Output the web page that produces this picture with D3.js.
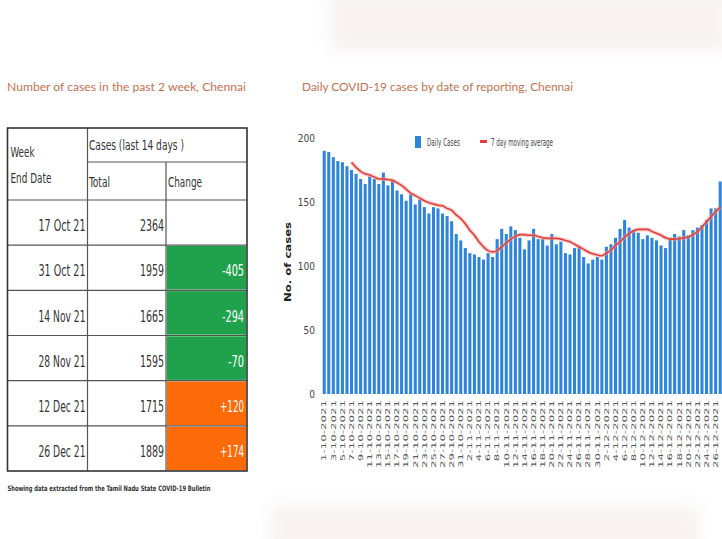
<!DOCTYPE html>
<html><head><meta charset="utf-8">
<script src="https://cdn.jsdelivr.net/npm/d3@7"></script>
<style>body{margin:0;background:#fff;} svg{display:block;}</style>
</head><body><div id="chart"></div>
<script>
// ---------- DATA ----------
const dates = [
"1-10-2021","2-10-2021","3-10-2021","4-10-2021","5-10-2021","6-10-2021","7-10-2021","8-10-2021","9-10-2021","10-10-2021",
"11-10-2021","12-10-2021","13-10-2021","14-10-2021","15-10-2021","16-10-2021","17-10-2021","18-10-2021","19-10-2021","20-10-2021",
"21-10-2021","22-10-2021","23-10-2021","24-10-2021","25-10-2021","26-10-2021","27-10-2021","28-10-2021","29-10-2021","30-10-2021",
"31-10-2021","1-11-2021","2-11-2021","3-11-2021","4-11-2021","5-11-2021","6-11-2021","7-11-2021","8-11-2021","9-11-2021",
"10-11-2021","11-11-2021","12-11-2021","13-11-2021","14-11-2021","15-11-2021","16-11-2021","17-11-2021","18-11-2021","19-11-2021",
"20-11-2021","21-11-2021","22-11-2021","23-11-2021","24-11-2021","25-11-2021","26-11-2021","27-11-2021","28-11-2021","29-11-2021",
"30-11-2021","1-12-2021","2-12-2021","3-12-2021","4-12-2021","5-12-2021","6-12-2021","7-12-2021","8-12-2021","9-12-2021",
"10-12-2021","11-12-2021","12-12-2021","13-12-2021","14-12-2021","15-12-2021","16-12-2021","17-12-2021","18-12-2021","19-12-2021",
"20-12-2021","21-12-2021","22-12-2021","23-12-2021","24-12-2021","25-12-2021","26-12-2021","27-12-2021"];

const dailyCases = [
190,189,185,182,181,178,175,172,168,164,
170,168,164,173,163,167,159,156,151,156,
148,152,146,141,146,145,141,139,135,125,
120,114,110,109,107,105,110,107,121,129,
125,131,128,122,113,120,129,121,121,116,
125,117,119,110,109,114,115,107,102,105,
107,105,115,117,122,129,136,130,128,126,
121,124,122,120,116,114,122,125,123,128,
124,128,130,132,136,145,145,166];

const movingAvg = [
null,null,null,null,null,null,181,177,174,172,
171,169.5,168,168,167.5,167,165,163,160,157,
155,153,151,149.5,148.5,147.5,147,145,143.5,140,
137,133,128,124,119,115,112,111,112,115,
118,121,123,124.5,124.5,124,124,123,122,121.6,
121.6,121.6,121,120,119,117,115,113,111,109.5,
108.6,108,110,112.5,116,119,122.5,125.5,127.5,128.6,
128.6,128.6,127,125.5,124,122,121,121,121.3,122,
122.6,124.5,126.8,130.5,134.6,138.5,142.4,146];

const yTicks = [0, 50, 100, 150, 200];
const seriesNames = ["Daily Cases", "7 day moving average"];

const weekEnd = ["17 Oct 21","31 Oct 21","14 Nov 21","28 Nov 21","12 Dec 21","26 Dec 21"];
const totals  = [2364, 1959, 1665, 1595, 1715, 1889];
const changes = [null, -405, -294, -70, 120, 174];

// ---------- SETUP ----------
const W = 722, H = 539;
const narrow = "'Liberation Sans Narrow','Arial Narrow','DejaVu Sans Condensed','Liberation Sans',sans-serif";
const titleFont = "Lato,'Open Sans',sans-serif";
const svg = d3.select("#chart").append("svg").attr("width", W).attr("height", H);
svg.append("rect").attr("width", W).attr("height", H).attr("fill", "#fff");

const defs = svg.append("defs");
defs.append("filter").attr("id", "blur").attr("x", "-20%").attr("y", "-50%").attr("width", "140%").attr("height", "200%")
  .append("feGaussianBlur").attr("stdDeviation", 8);
// faint background decoration
svg.append("rect").attr("x", 330).attr("y", -10).attr("width", 400).attr("height", 62)
  .attr("fill", "#f1e4e4").attr("opacity", 0.45).attr("filter", "url(#blur)");
svg.append("rect").attr("x", 270).attr("y", 505).attr("width", 430).attr("height", 50)
  .attr("fill", "#f1e4e4").attr("opacity", 0.45).attr("filter", "url(#blur)");

// ---------- TITLES ----------
const titleColor = "#c4714f";
svg.append("text").attr("x", 7).attr("y", 91).attr("font-family", titleFont).attr("font-size", 12)
  .attr("fill", titleColor).attr("textLength", 239).attr("lengthAdjust", "spacingAndGlyphs")
  .text("Number of cases in the past 2 week, Chennai");
svg.append("text").attr("x", 302).attr("y", 91).attr("font-family", titleFont).attr("font-size", 12)
  .attr("fill", titleColor).attr("textLength", 271).attr("lengthAdjust", "spacingAndGlyphs")
  .text("Daily COVID-19 cases by date of reporting, Chennai");

// ---------- TABLE ----------
const T = {left: 7.5, c1: 87.5, c2: 166, right: 247, top: 128, mid: 162, head: 200, bottom: 471};
const row = d3.scaleBand().domain(weekEnd).range([T.head, T.bottom]);
const bw = row.bandwidth();
const tbl = svg.append("g").attr("font-family", narrow).attr("fill", "#333");

const fillScale = v => v < 0 ? "#1fa24b" : "#fd6a08";
tbl.selectAll("rect.chg").data(weekEnd.filter((d, i) => changes[i] != null)).join("rect")
  .attr("x", T.c2 + 0.8).attr("width", T.right - T.c2 - 1.6)
  .attr("y", d => row(d) + 0.8).attr("height", bw - 1.6)
  .attr("fill", d => fillScale(changes[weekEnd.indexOf(d)]));

const lineC = "#555";
// grid lines
tbl.append("line").attr("x1", T.c1).attr("x2", T.right).attr("y1", T.mid).attr("y2", T.mid).attr("stroke", lineC).attr("stroke-width", 1.2);
tbl.append("line").attr("x1", T.left).attr("x2", T.right).attr("y1", T.head).attr("y2", T.head).attr("stroke", lineC).attr("stroke-width", 1.2);
tbl.selectAll("line.r").data(weekEnd.slice(1)).join("line")
  .attr("x1", T.left).attr("x2", T.right).attr("y1", d => row(d)).attr("y2", d => row(d))
  .attr("stroke", lineC).attr("stroke-width", 1.2);
tbl.append("line").attr("x1", T.c1).attr("x2", T.c1).attr("y1", T.top).attr("y2", T.bottom).attr("stroke", lineC).attr("stroke-width", 1.2);
tbl.append("line").attr("x1", T.c2).attr("x2", T.c2).attr("y1", T.mid).attr("y2", T.bottom).attr("stroke", lineC).attr("stroke-width", 1.2);
tbl.append("rect").attr("x", T.left).attr("y", T.top).attr("width", T.right - T.left).attr("height", T.bottom - T.top)
  .attr("fill", "none").attr("stroke", "#333").attr("stroke-width", 1.6);

function ht(x, y, s, len, size) {
  tbl.append("text").attr("x", x).attr("y", y).attr("font-size", size).attr("fill", "#333")
    .attr("textLength", len).attr("lengthAdjust", "spacingAndGlyphs").text(s);
}
ht(10.5, 157, "Week", 24, 14.5);
ht(10.5, 183, "End Date", 41, 14.5);
ht(89, 150, "Cases (last 14 days )", 95, 14.5);
ht(89, 187, "Total", 21, 14.5);
ht(168, 187, "Change", 34, 14.5);

const strW = s => [...s].reduce((a, c) => a + (c === "-" ? 4 : c === " " ? 3.5 : 6), 0);
const baseY = d => row(d) + bw / 2 + 8.6;
tbl.selectAll("text.date").data(weekEnd).join("text")
  .attr("x", T.c1 - 2).attr("y", baseY).attr("text-anchor", "end").attr("font-size", 16)
  .attr("textLength", 47).attr("lengthAdjust", "spacingAndGlyphs").text(d => d);
tbl.selectAll("text.tot").data(weekEnd).join("text")
  .attr("x", T.c2 - 2).attr("y", baseY).attr("text-anchor", "end").attr("font-size", 16)
  .attr("textLength", 24).attr("lengthAdjust", "spacingAndGlyphs").text((d, i) => totals[i]);
const fmtChg = v => v > 0 ? "+" + v : String(v);
tbl.selectAll("text.chgt").data(weekEnd.filter((d, i) => changes[i] != null)).join("text")
  .attr("x", T.right - 3).attr("y", baseY).attr("text-anchor", "end").attr("font-size", 16).attr("fill", "#fff")
  .attr("textLength", d => strW(fmtChg(changes[weekEnd.indexOf(d)])))
  .attr("lengthAdjust", "spacingAndGlyphs")
  .text(d => fmtChg(changes[weekEnd.indexOf(d)]));

svg.append("text").attr("x", 7.5).attr("y", 491).attr("font-family", narrow).attr("font-size", 7.5)
  .attr("font-weight", "bold").attr("fill", "#333").attr("textLength", 203).attr("lengthAdjust", "spacingAndGlyphs")
  .text("Showing data extracted from the Tamil Nadu State COVID-19 Bulletin");

// ---------- BAR CHART ----------
const x = d3.scaleBand().domain(dates).range([322, 322 + dates.length * 4.55]).paddingInner(0.33).paddingOuter(0.15);
const y = d3.scaleLinear().domain([0, 200]).range([394, 138]);
const barColor = "#2e84da";

const chart = svg.append("g");
chart.selectAll("rect.bar").data(dailyCases).join("rect")
  .attr("x", (d, i) => x(dates[i])).attr("width", x.bandwidth())
  .attr("y", d => y(d)).attr("height", d => y(0) - y(d)).attr("fill", barColor);

const line = d3.line().defined(d => d != null)
  .x((d, i) => x(dates[i]) + x.bandwidth() / 2).y(d => y(d)).curve(d3.curveMonotoneX);
chart.append("path").datum(movingAvg).attr("d", line).attr("fill", "none")
  .attr("stroke", "#f29a9a").attr("stroke-width", 4).attr("opacity", 0.5);
chart.append("path").datum(movingAvg).attr("d", line).attr("fill", "none")
  .attr("stroke", "#e2403c").attr("stroke-width", 1.6);

// axes
const xAxis = chart.append("g").attr("transform", "translate(0,394)")
  .call(d3.axisBottom(x).tickValues(dates.filter((d, i) => i % 2 === 0)).tickSize(0));
xAxis.select(".domain").remove();
xAxis.selectAll("text").attr("font-family", narrow).attr("font-size", 6.5).attr("fill", "#555")
  .attr("transform", "rotate(-90)").attr("text-anchor", "end")
  .attr("x", -6).attr("y", 0).attr("dy", "0.35em")
  .attr("textLength", d => d.length * 6.8).attr("lengthAdjust", "spacingAndGlyphs");

const yAxis = chart.append("g").attr("transform", "translate(322,0)")
  .call(d3.axisLeft(y).tickValues(yTicks).tickSize(0).tickPadding(7));
yAxis.select(".domain").remove();
yAxis.selectAll("text").attr("font-family", narrow).attr("font-size", 10).attr("fill", "#444");

chart.append("text").attr("transform", "translate(291,262) rotate(-90)").attr("text-anchor", "middle")
  .attr("font-family", narrow).attr("font-size", 8.5).attr("font-weight", "bold").attr("fill", "#222")
  .attr("textLength", 80).attr("lengthAdjust", "spacingAndGlyphs").text("No. of cases");

// legend
const lg = chart.append("g").attr("font-family", narrow).attr("font-size", 11).attr("fill", "#444");
lg.append("rect").attr("x", 415).attr("y", 136).attr("width", 6).attr("height", 12).attr("fill", barColor);
lg.append("text").attr("x", 427).attr("y", 146).attr("textLength", 33).attr("lengthAdjust", "spacingAndGlyphs").text(seriesNames[0]);
lg.append("line").attr("x1", 480).attr("x2", 487).attr("y1", 141.5).attr("y2", 141.5).attr("stroke", "#e2403c").attr("stroke-width", 3);
lg.append("text").attr("x", 491).attr("y", 146).attr("textLength", 62).attr("lengthAdjust", "spacingAndGlyphs").text(seriesNames[1]);
</script>
</body></html>
